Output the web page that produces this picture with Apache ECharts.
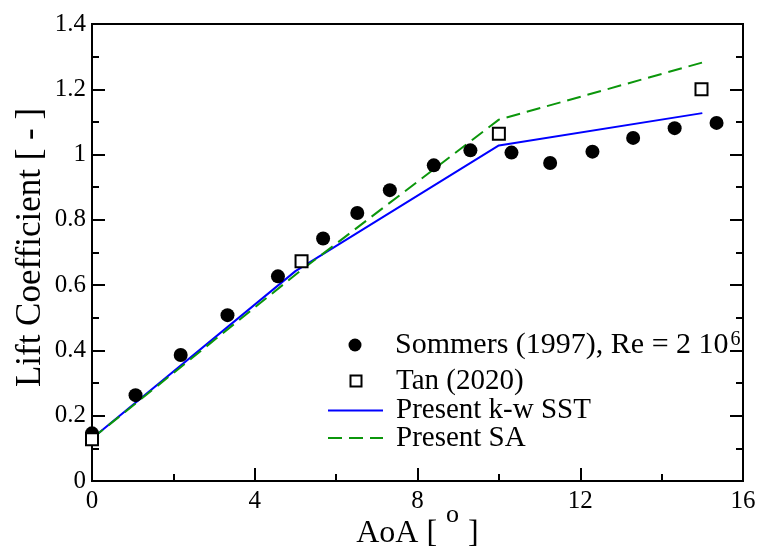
<!DOCTYPE html>
<html>
<head>
<meta charset="utf-8">
<script src="https://cdn.jsdelivr.net/npm/echarts@6/dist/echarts.min.js"></script>
<style>
  html, body { margin: 0; padding: 0; background: #fff; }
  #chart { width: 760px; height: 552px; }
</style>
</head>
<body>
<div id="chart"></div>
<script>
// Axis ticks
const xTicks = [0, 4, 8, 12, 16];
const yTicks = [0, 0.2, 0.4, 0.6, 0.8, 1, 1.2, 1.4];

// Experiment: Sommers (1997)
const sommersAoA = [0, 1.07, 2.18, 3.33, 4.57, 5.68, 6.52, 7.32, 8.40, 9.30, 10.31, 11.26, 12.30, 13.30, 14.32, 15.35];
const sommersCl  = [0.146, 0.263, 0.386, 0.508, 0.627, 0.743, 0.821, 0.891, 0.967, 1.013, 1.006, 0.974, 1.009, 1.051, 1.081, 1.097];

// Reference computation: Tan (2020)
const tanAoA = [0, 5.15, 10.0, 14.98];
const tanCl  = [0.128, 0.673, 1.064, 1.200];

// Present simulations
const sstAoA = [0, 5, 10, 15];
const sstCl  = [0.130, 0.643, 1.028, 1.127];
const saAoA  = [0, 5, 10, 15];
const saCl   = [0.130, 0.632, 1.107, 1.282];

const seriesNames = ['Sommers (1997), Re = 2 10^6', 'Tan (2020)', 'Present k-w SST', 'Present SA'];

const FONT = '"Liberation Serif", "Times New Roman", serif';
const TEXT_X = 395;           // left edge of the legend labels
const zip = (xs, ys) => xs.map((x, i) => [x, ys[i]]);

const axisLineStyle = { color: '#000', width: 2 };

// One legend block per entry so each row can sit at its own height.
// centerX: middle of the icon, iconW/iconH: icon box, fs: label size
function legendItem(name, centerY, centerX, iconW, iconH, fs, extra) {
  const left = centerX - iconW / 2;
  return Object.assign({
    data: [name],
    left: left,
    top: centerY - 15,
    padding: 0,
    itemWidth: iconW,
    itemHeight: iconH,
    selectedMode: false,
    formatter: n => n === seriesNames[0]
      ? '{t|Sommers (1997), Re = 2 10}{s|6}'
      : '{t|' + n + '}',
    textStyle: {
      fontFamily: FONT,
      fontSize: fs,
      color: '#000',
      padding: [0, 0, 0, TEXT_X - (left + iconW + 5)],
      rich: {
        t: { fontFamily: FONT, fontSize: fs, lineHeight: 30, color: '#000' },
        s: { fontFamily: FONT, fontSize: 20, lineHeight: 14, color: '#000', verticalAlign: 'top', padding: [0, 0, 0, 2] }
      }
    }
  }, extra || {});
}

const hiddenDot = { itemStyle: { color: 'rgba(0,0,0,0)', borderColor: 'rgba(0,0,0,0)', borderWidth: 0 } };

const chart = echarts.init(document.getElementById('chart'), null, { renderer: 'canvas' });

chart.setOption({
  backgroundColor: '#fff',
  animation: false,
  grid: {
    left: 92, right: 17, top: 24, bottom: 71,
    outerBoundsMode: 'none',
    containLabel: false,
    show: true, borderColor: '#000', borderWidth: 2, backgroundColor: 'transparent'
  },
  legend: [
    legendItem(seriesNames[0], 345, 355, 13, 13, 30),
    legendItem(seriesNames[1], 381.5, 355, 11, 11, 29),
    legendItem(seriesNames[2], 411, 354.5, 55, 12, 29, hiddenDot),
    legendItem(seriesNames[3], 438.5, 354.5, 55, 12, 29, hiddenDot)
  ],
  xAxis: [{
    type: 'value',
    min: xTicks[0], max: xTicks[xTicks.length - 1], interval: xTicks[1] - xTicks[0],
    position: 'bottom',
    axisLine: { show: true, onZero: false, lineStyle: axisLineStyle },
    axisTick: { show: true, inside: true, length: 13, lineStyle: axisLineStyle },
    minorTick: { show: true, splitNumber: 2, length: 7, lineStyle: axisLineStyle },
    splitLine: { show: false },
    axisLabel: { fontFamily: FONT, fontSize: 25, color: '#000', margin: 8 },
    // degree mark drawn as a raised "o"
    name: '{t|AoA [}{s|o}{t|]}',
    nameLocation: 'middle',
    nameGap: 35,
    nameMoveOverlap: false,
    nameTextStyle: {
      fontFamily: FONT, fontSize: 32, color: '#000',
      rich: {
        t: { fontFamily: FONT, fontSize: 32, lineHeight: 34, color: '#000', verticalAlign: 'bottom' },
        s: { fontFamily: FONT, fontSize: 26, lineHeight: 24, color: '#000', verticalAlign: 'bottom', padding: [0, 9, 22, 9] }
      }
    }
  }],
  yAxis: [{
    type: 'value',
    min: yTicks[0], max: yTicks[yTicks.length - 1], interval: 0.2,
    position: 'left',
    axisLine: { show: true, onZero: false, lineStyle: axisLineStyle },
    axisTick: { show: true, inside: true, length: 13, lineStyle: axisLineStyle },
    minorTick: { show: true, splitNumber: 2, length: 7, lineStyle: axisLineStyle },
    splitLine: { show: false },
    axisLabel: { fontFamily: FONT, fontSize: 25, color: '#000', margin: 6 },
    name: 'Lift Coefficient [ - ]',
    nameLocation: 'middle',
    nameGap: 44,
    nameMoveOverlap: false,
    nameTextStyle: { fontFamily: FONT, fontSize: 35, color: '#000', padding: [0, 0, 0, 10] }
  }, {
    type: 'value',
    min: yTicks[0], max: yTicks[yTicks.length - 1], interval: 0.2,
    position: 'right',
    axisLine: { show: true, onZero: false, lineStyle: axisLineStyle },
    axisTick: { show: true, inside: true, length: 13, lineStyle: axisLineStyle },
    minorTick: { show: true, splitNumber: 2, length: 7, lineStyle: axisLineStyle },
    splitLine: { show: false },
    axisLabel: { show: false }
  }],
  series: [
    {
      name: seriesNames[2], type: 'line', data: zip(sstAoA, sstCl),
      symbol: 'none', z: 2,
      lineStyle: { color: '#0000ff', width: 2 },
      itemStyle: { color: '#0000ff' }
    },
    {
      name: seriesNames[3], type: 'line', data: zip(saAoA, saCl),
      symbol: 'none', z: 2,
      lineStyle: { color: '#0b960b', width: 2, type: [14, 7] },
      itemStyle: { color: '#0b960b' }
    },
    {
      name: seriesNames[0], type: 'scatter', data: zip(sommersAoA, sommersCl),
      symbol: 'circle', symbolSize: 14, z: 3,
      itemStyle: { color: '#000', opacity: 1 }
    },
    {
      name: seriesNames[1], type: 'scatter', data: zip(tanAoA, tanCl),
      symbol: 'rect', symbolSize: 12, z: 4,
      itemStyle: { color: '#fff', borderColor: '#000', borderWidth: 2, opacity: 1 }
    }
  ]
});
</script>
</body>
</html>
